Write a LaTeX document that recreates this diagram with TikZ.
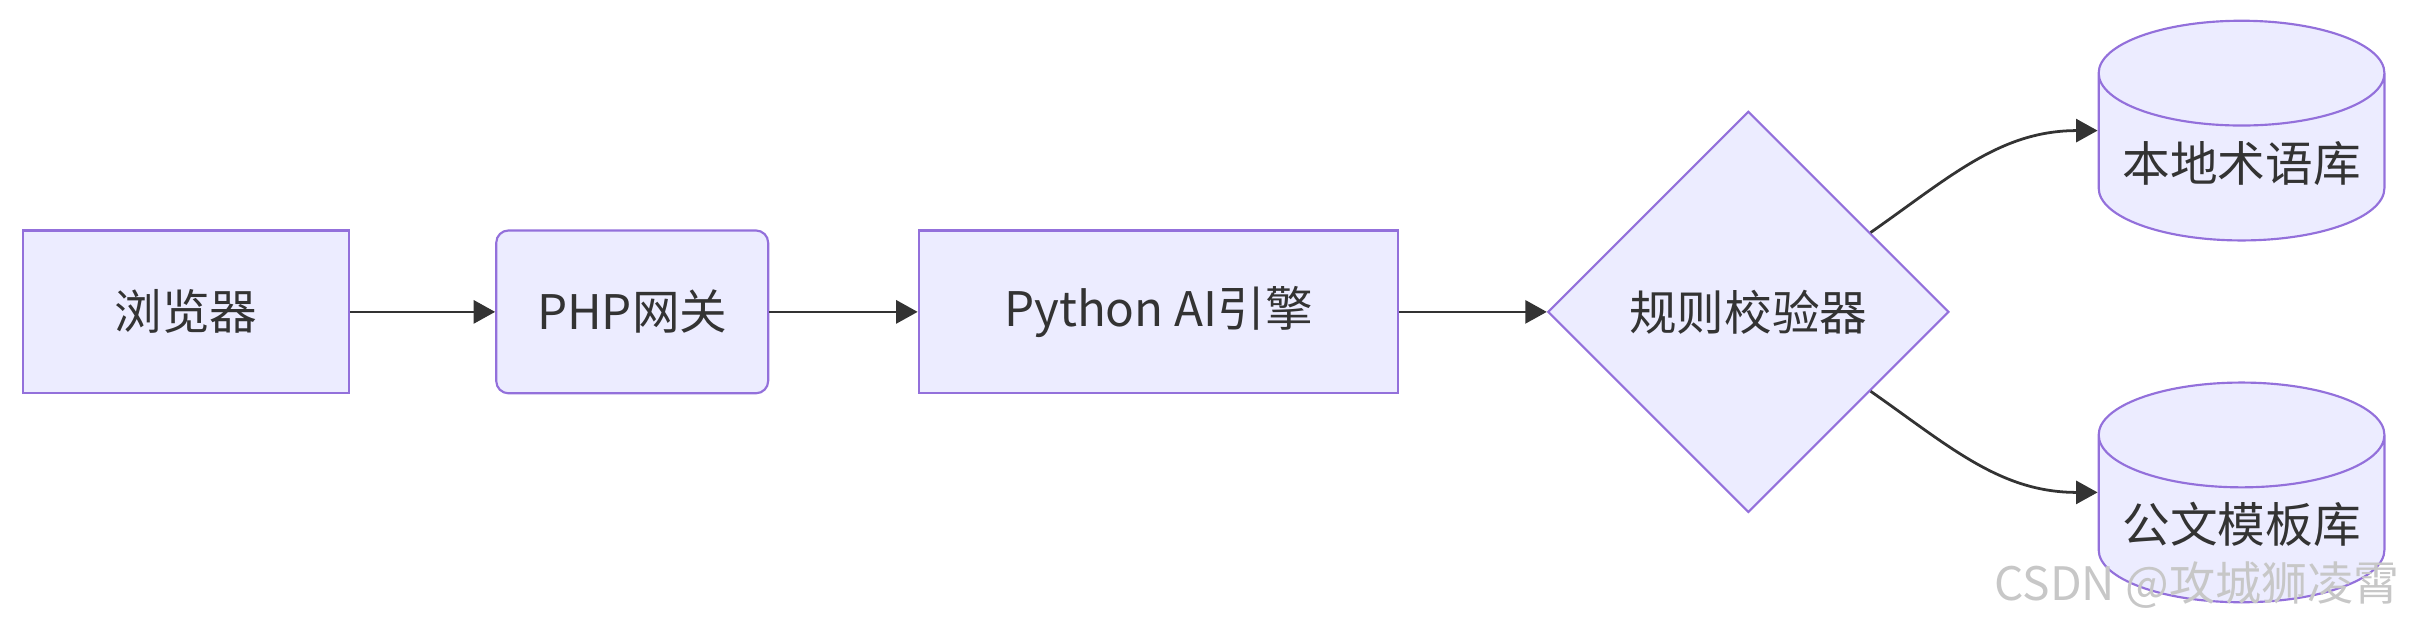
\documentclass[tikz,border=0pt]{standalone}
\usepackage{fontspec}
\setmainfont{Noto Sans CJK SC}
\usetikzlibrary{shapes.geometric,arrows.meta}
\definecolor{nodefill}{HTML}{ECECFF}
\definecolor{nodeline}{HTML}{9370DB}
\definecolor{edgeline}{HTML}{333333}
\tikzset{
  box/.style={draw=nodeline, fill=nodefill, line width=0.7pt, text=edgeline,
    minimum height=53pt, inner sep=0pt, font=\fontsize{15.5}{18}\selectfont},
  store/.style={box, shape=cylinder, shape border rotate=90, aspect=0.44,
    minimum width=93pt, minimum height=71.5pt, anchor=shape center},
  edge/.style={draw=edgeline, line width=0.9pt, -{Triangle[length=7pt,width=7.5pt]}}
}
\begin{document}
\begin{tikzpicture}[x=0.5pt,y=-0.5pt]
        \useasboundingbox (0,0) rectangle (1568,407.5);

        \node[box, minimum width=106pt] (brow) at (121,203) {浏览器};
        \node[box, minimum width=88.5pt, rounded corners=4pt] (php) at (411.5,203) {PHP网关};
        \node[box, minimum width=156pt] (py) at (754,203) {Python AI引擎};
        \node[box, shape=diamond, minimum width=130.5pt, minimum height=130.5pt] (chk) at (1138,203) {规则校验器};
        \node[store] (term) at (1459,85) {\raisebox{-7.75pt}[0pt][0pt]{本地术语库}};
        \node[store] (tmpl) at (1459,320.5) {\raisebox{-7.75pt}[0pt][0pt]{公文模板库}};

        \draw[edge] (brow) -- (php);
        \draw[edge] (php) -- (py);
        \draw[edge] (py) -- (chk);
        \draw[edge] (chk.33) to[out=35, in=180] (term.west |- term.shape center);
        \draw[edge] (chk.-33) to[out=-35, in=180] (tmpl.west |- tmpl.shape center);

        \node[text=black!22, font=\fontsize{15}{18}\selectfont] (mark) at (1430,381) {CSDN @攻城狮凌霄};
    \end{tikzpicture}
\end{document}
